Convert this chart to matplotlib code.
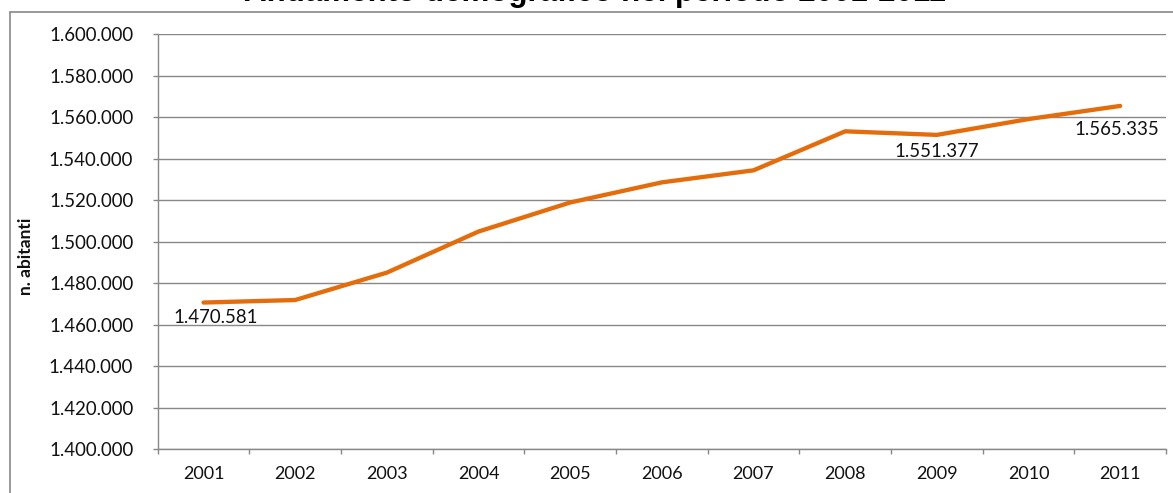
import matplotlib
matplotlib.use("Agg")
import matplotlib.pyplot as plt
from matplotlib.patches import Rectangle
from matplotlib.ticker import FuncFormatter, MultipleLocator

# Popolazione residente al 31 dicembre
anni = ["2001", "2002", "2003", "2004", "2005", "2006",
        "2007", "2008", "2009", "2010", "2011"]
abitanti = [1470581, 1471800, 1485000, 1504800, 1518800, 1528500,
            1534300, 1553100, 1551377, 1559000, 1565335]
# indice del punto -> offset (px) dell'etichetta rispetto al punto
etichette = {0: (12, -15), 8: (0, -17), 10: (-3, -24)}

titolo = "Andamento demografico nel periodo 2001-2011"
etichetta_y = "n. abitanti"

ARANCIO = "#E46C0A"
GRIGIO = "#888888"
FONT = ["Lato", "DejaVu Sans"]

def migliaia(v, _pos=None):
    return f"{int(round(v)):,}".replace(",", ".")

fig = plt.figure(figsize=(11.73, 4.93), dpi=100)
W, H = 1173, 493
ax = fig.add_axes([157.7 / W, 1 - 449 / H, (1166 - 157.7) / W, (449 - 34) / H])

x = list(range(len(anni)))
ax.plot(x, abitanti, color=ARANCIO, lw=3.1, solid_capstyle="round",
        solid_joinstyle="round", zorder=3)

for i, (dx, dy) in etichette.items():
    ax.annotate(migliaia(abitanti[i]), (x[i], abitanti[i]), xytext=(dx, dy),
                textcoords="offset pixels", ha="center", va="center",
                fontsize=13.4, family=FONT, color="#111111")

ax.set_xlim(-0.5, len(anni) - 0.5)
ax.set_ylim(1400000, 1600000)
ax.yaxis.set_major_locator(MultipleLocator(20000))
ax.yaxis.set_major_formatter(FuncFormatter(migliaia))
ax.set_xticks(x)
ax.set_xticklabels(anni)
ax.set_xticks([i - 0.5 for i in range(len(anni) + 1)], minor=True)
ax.tick_params(axis="x", which="major", length=0, pad=12)
ax.tick_params(axis="x", which="minor", length=3.6, color=GRIGIO, width=1)
ax.tick_params(axis="y", length=3.6, color=GRIGIO, width=1, pad=14)
for lab in ax.get_yticklabels():
    lab.set_family(FONT)
    lab.set_fontsize(13.4)
    lab.set_color("#111111")
for lab in ax.get_xticklabels():
    lab.set_family(FONT)
    lab.set_fontsize(13)
    lab.set_color("#111111")

ax.grid(axis="y", color=GRIGIO, lw=1)
ax.set_axisbelow(True)
for s in ("top", "right"):
    ax.spines[s].set_visible(False)
for s in ("left", "bottom"):
    ax.spines[s].set_color(GRIGIO)
    ax.spines[s].set_linewidth(1)

fig.text(26 / W, 1 - 256 / H, etichetta_y, rotation=90, ha="center", va="center",
         fontsize=12.5, fontweight="bold", family=FONT, color="#111111")

fig.text(595 / W, 1 - 0.5 / H, titolo, ha="center", va="baseline",
         fontsize=22.5, fontweight="bold", family=["Liberation Sans", "DejaVu Sans"])

# cornice dell'area grafico
fig.patches.append(Rectangle((10 / W, -0.1), 1.2, 1 - 12 / H + 0.1,
                             transform=fig.transFigure, fill=False,
                             edgecolor=GRIGIO, lw=1.2, clip_on=False))

fig.savefig("out.png", dpi=100)
